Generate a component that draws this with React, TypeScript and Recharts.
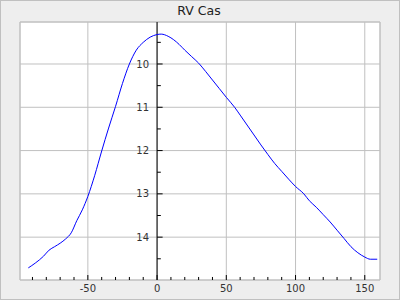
import {
  CartesianGrid,
  Line,
  LineChart,
  ReferenceArea,
  ReferenceDot,
  ReferenceLine,
  XAxis,
  YAxis,
} from "recharts";

const TITLE = "RV Cas";

// light curve: phase (days) vs magnitude
const phase = [
  -93, -88, -82, -78, -74, -70, -66, -62, -58, -54, -50, -45, -40, -35, -30,
  -25, -20, -15, -10, -5, 0, 3, 8, 12, 16, 20, 25, 30, 35, 40, 45, 50, 56, 60,
  65, 70, 75, 80, 85, 90, 95, 100, 106, 110, 115, 120, 125, 130, 135, 140, 145,
  150, 154, 159,
];
const mag = [
  14.71, 14.6, 14.44, 14.3, 14.22, 14.14, 14.04, 13.9, 13.62, 13.37, 13.06,
  12.57, 12.01, 11.48, 10.98, 10.45, 10.0, 9.68, 9.5, 9.38, 9.32, 9.31, 9.36,
  9.44, 9.55, 9.68, 9.83, 9.98, 10.17, 10.37, 10.57, 10.77, 11.0, 11.18, 11.41,
  11.64, 11.87, 12.09, 12.3, 12.48, 12.66, 12.83, 13.0, 13.16, 13.31, 13.48,
  13.65, 13.84, 14.03, 14.22, 14.36, 14.46, 14.51, 14.51,
];

const xTicks = [-50, 0, 50, 100, 150];
const xMinorTicks = [
  -90, -80, -70, -60, -40, -30, -20, -10, 10, 20, 30, 40, 60, 70, 80, 90, 110,
  120, 130, 140,
];
const yTicks = [10, 11, 12, 13, 14];
const yMinorTicks = [9.5, 10.5, 11.5, 12.5, 13.5, 14.5];

const X_DOMAIN: [number, number] = [-99, 161];
const Y_DOMAIN: [number, number] = [9.03, 14.99];

const data = phase.map((p, i) => ({ phase: p, mag: mag[i] }));

const FONT = "'DejaVu Sans', sans-serif";
const GRID = "#c0c0c0";

export default function App() {
  const [yTop, yBottom] = Y_DOMAIN;
  return (
    <div
      style={{
        position: "relative",
        width: 400,
        height: 300,
        boxSizing: "border-box",
        border: `1px solid ${GRID}`,
        background: "#eeeeee",
      }}
    >
      <style>{`body{margin:0}`}</style>
      <svg
        width={400}
        height={20}
        style={{ position: "absolute", left: -1, top: -1 }}
      >
        <text
          x={199}
          y={15}
          textAnchor="middle"
          fontFamily={FONT}
          fontSize={12.5}
          fill="#222"
        >
          {TITLE}
        </text>
      </svg>
      <div style={{ position: "absolute", left: -1, top: -1 }}>
        <LineChart
          width={400}
          height={300}
          data={data}
          margin={{ top: 22, right: 20, bottom: 0, left: 20 }}
        >
          <CartesianGrid stroke={GRID} fill="#ffffff" />
          <XAxis
            dataKey="phase"
            type="number"
            domain={X_DOMAIN}
            ticks={xTicks}
            height={20}
            tickLine={false}
            axisLine={false}
            tickSize={0}
            tickMargin={5}
            tick={{ fontSize: 10, fontFamily: FONT, fill: "#333" }}
          />
          <YAxis
            type="number"
            domain={Y_DOMAIN}
            ticks={yTicks}
            reversed
            hide
          />
          <ReferenceArea
            x1={X_DOMAIN[0]}
            x2={X_DOMAIN[1]}
            y1={yTop}
            y2={yBottom}
            fill="none"
            stroke={GRID}
            ifOverflow="visible"
          />
          <ReferenceLine x={0} stroke="#000" ifOverflow="visible" />
          {yTicks.map((v) => (
            <ReferenceLine
              key={`ymaj${v}`}
              segment={[
                { x: 0, y: v },
                { x: 4, y: v },
              ]}
              stroke="#000"
              ifOverflow="visible"
            />
          ))}
          {yMinorTicks.map((v) => (
            <ReferenceLine
              key={`ymin${v}`}
              segment={[
                { x: 0, y: v },
                { x: 2.7, y: v },
              ]}
              stroke="#000"
              ifOverflow="visible"
            />
          ))}
          {xTicks.map((v) => (
            <ReferenceLine
              key={`xmaj${v}`}
              segment={[
                { x: v, y: yBottom },
                { x: v, y: yBottom - 0.115 },
              ]}
              stroke="#000"
              ifOverflow="visible"
            />
          ))}
          {xMinorTicks.map((v) => (
            <ReferenceLine
              key={`xmin${v}`}
              segment={[
                { x: v, y: yBottom },
                { x: v, y: yBottom - 0.07 },
              ]}
              stroke="#000"
              ifOverflow="visible"
            />
          ))}
          {yTicks.map((v) => (
            <ReferenceDot
              key={`ylab${v}`}
              x={0}
              y={v}
              r={0}
              fill="none"
              stroke="none"
              ifOverflow="visible"
              label={{
                value: String(v),
                position: "left",
                offset: 8,
                fontSize: 10,
                fontFamily: FONT,
                fill: "#333",
              }}
            />
          ))}
          <Line
            type="monotone"
            dataKey="mag"
            stroke="#0000ff"
            strokeWidth={1}
            dot={false}
            isAnimationActive={false}
          />
        </LineChart>
      </div>
    </div>
  );
}
